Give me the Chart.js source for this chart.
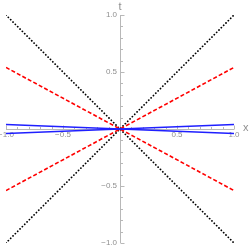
<!DOCTYPE html>
<html><head><meta charset="utf-8">
<script src="https://cdn.jsdelivr.net/npm/chart.js@4.4.1/dist/chart.umd.min.js"></script>
<style>html,body{margin:0;padding:0;background:#fff}#w{width:250px;height:249px}</style>
</head><body><div id="w"><canvas id="c"></canvas></div>
<script>
const xEnds = [-1, 1];
const blackA = [-1, 1];
const blackB = [1, -1];
const redA = [-0.54, 0.54];
const redB = [0.54, -0.54];
const blueA = [-0.04, 0.04];
const blueB = [0.04, -0.04];
const xTickLabels = ['\u22121.0', '\u22120.5', '0.5', '1.0'];
const xTickValues = [-1, -0.5, 0.5, 1];
const yTickLabels = ['\u22121.0', '\u22120.5', '0.5', '1.0'];
const yTickValues = [-1, -0.5, 0.5, 1];
const xLabel = 'x', yLabel = 't';

const pts = ys => xEnds.map((x, i) => ({x, y: ys[i]}));
const axisColor = '#b8b8b8', labelColor = '#8f8f8f';

const axesPlugin = {
  id: 'mathAxes',
  beforeDatasetsDraw(chart) {
    const {ctx, scales: {x, y}} = chart;
    const x0 = x.getPixelForValue(0), y0 = y.getPixelForValue(0);
    ctx.save();
    ctx.strokeStyle = axisColor; ctx.lineWidth = 1;
    ctx.beginPath();
    ctx.moveTo(x.getPixelForValue(-1) , Math.round(y0)+0.5);
    ctx.lineTo(x.getPixelForValue(1) , Math.round(y0)+0.5);
    ctx.moveTo(Math.round(x0)+0.5, y.getPixelForValue(1));
    ctx.lineTo(Math.round(x0)+0.5, y.getPixelForValue(-1));
    ctx.stroke();
    ctx.beginPath();
    for (let k = -10; k <= 10; k++) {
      if (k === 0) continue;
      const v = k / 10, major = (k % 5 === 0);
      const len = major ? 4 : 2.5;
      const px = Math.round(x.getPixelForValue(v)) + 0.5;
      ctx.moveTo(px, Math.round(y0)+0.5); ctx.lineTo(px, Math.round(y0)+0.5 - len);
      const py = Math.round(y.getPixelForValue(v)) + 0.5;
      ctx.moveTo(Math.round(x0)+0.5, py); ctx.lineTo(Math.round(x0)+0.5 + len, py);
    }
    ctx.stroke();
    ctx.fillStyle = labelColor;
    ctx.font = '8px "Liberation Sans"';
    ctx.textAlign = 'center'; ctx.textBaseline = 'top';
    xTickValues.forEach((v, i) => ctx.fillText(xTickLabels[i], x.getPixelForValue(v), y0 + 2));
    ctx.textAlign = 'right'; ctx.textBaseline = 'middle';
    yTickValues.forEach((v, i) => ctx.fillText(yTickLabels[i], x0 - 3, y.getPixelForValue(v)));
    ctx.font = '11px "Liberation Sans"';
    ctx.textAlign = 'left'; ctx.textBaseline = 'middle';
    ctx.fillText(xLabel, x.getPixelForValue(1) + 9, y0 - 1);
    ctx.textAlign = 'center'; ctx.textBaseline = 'bottom';
    ctx.fillText(yLabel, x0, y.getPixelForValue(1) - 3);
    ctx.restore();
  }
};

const ds = (data, color, dash, width, cap) => ({
  data, showLine: true, borderColor: color, borderWidth: width, borderDash: dash,
  borderCapStyle: cap, pointRadius: 0, fill: false, tension: 0
});

new Chart(document.getElementById('c'), {
  type: 'scatter',
  data: { datasets: [
    ds(pts(blueA), '#1f1fff', [], 1.6, 'butt'),
    ds(pts(blueB), '#1f1fff', [], 1.6, 'butt'),
    ds(pts(redA), '#ff0000', [4, 2.2], 1.6, 'butt'),
    ds(pts(redB), '#ff0000', [4, 2.2], 1.6, 'butt'),
    ds(pts(blackA), '#000000', [0.01, 3.3], 1.8, 'round'),
    ds(pts(blackB), '#000000', [0.01, 3.3], 1.8, 'round')
  ]},
  plugins: [axesPlugin],
  options: {
    responsive: true, maintainAspectRatio: false, animation: false,
    layout: { padding: { left: 6, right: 16, top: 15, bottom: 6 } },
    plugins: { legend: { display: false }, tooltip: { enabled: false } },
    scales: {
      x: { type: 'linear', min: -1, max: 1, display: false },
      y: { type: 'linear', min: -1, max: 1, display: false }
    }
  }
});
</script></body></html>
